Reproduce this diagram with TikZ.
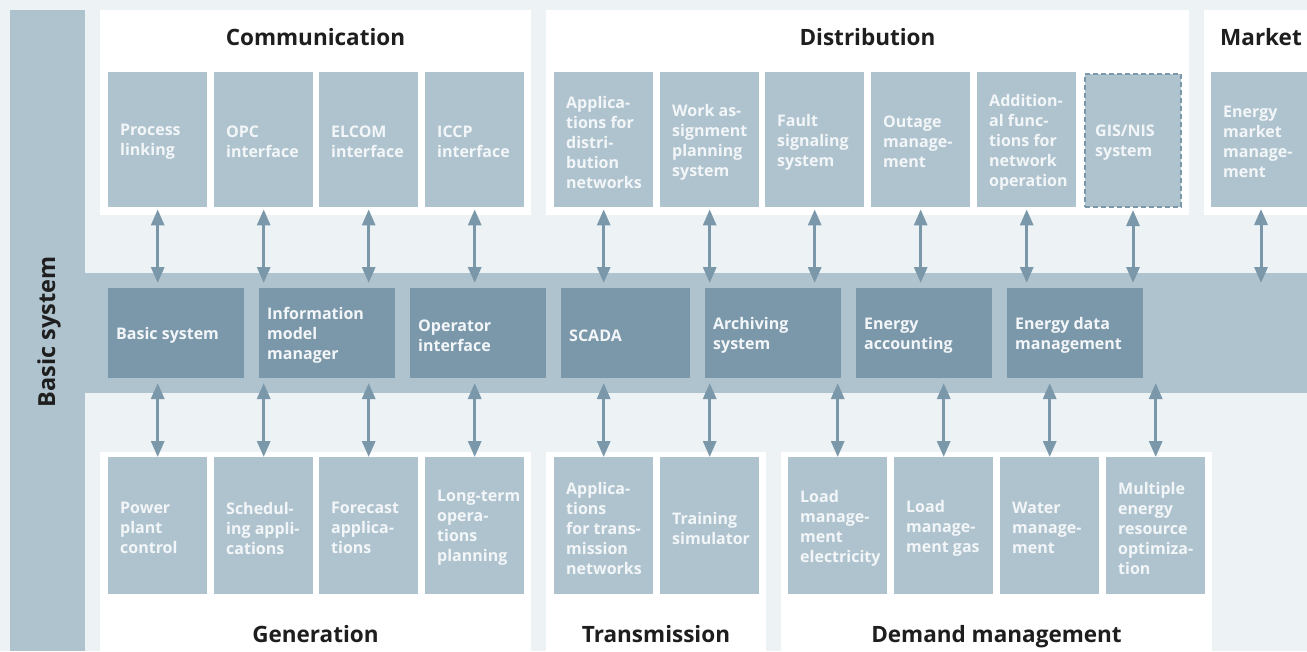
\documentclass[tikz,border=0pt]{standalone}
\usepackage{fontspec}
\setmainfont{Open Sans}
\usetikzlibrary{arrows.meta}
\definecolor{bg}{HTML}{EDF2F5}
\definecolor{lite}{HTML}{AFC3CE}
\definecolor{dark}{HTML}{7B98AA}
\definecolor{ttl}{HTML}{1E1E1E}
\definecolor{btxt}{HTML}{F3F6F8}
\tikzset{
 lbox/.style={fill=lite, draw=none, inner sep=0},
 dbox/.style={fill=dark, draw=none, inner sep=0},
 gbox/.style={fill=lite, draw=dark, line width=2pt, dash pattern=on 5pt off 3pt, inner sep=0},
 panel/.style={fill=white, draw=none, inner sep=0},
 strip/.style={fill=lite, draw=none, inner sep=0},
 boxtext/.style={align=left, inner sep=0, text=btxt, font=\fontsize{16}{20}\selectfont\bfseries},
 title/.style={font=\fontsize{22.5}{26}\selectfont\bfseries, text=ttl, inner sep=0, anchor=base},
 arr/.style={draw=dark, line width=3pt, {Triangle[length=16pt,width=13pt]}-{Triangle[length=16pt,width=13pt]}},
}
% style, name, x1, y1, x2, y2
\newcommand\plate[6]{%
 \pgfmathsetmacro\bxw{#5-#3}\pgfmathsetmacro\bxh{#6-#4}%
 \node[#1, anchor=north west, minimum width=\bxw pt, minimum height=\bxh pt] (#2) at (#3,#4) {};}
% style, name, x1, y1, x2, y2, padding, text
\newcommand\bx[8]{%
 \plate{#1}{#2}{#3}{#4}{#5}{#6}%
 \node[boxtext, anchor=west] (#2t) at ([xshift=#7pt,yshift=-2.5pt]#2.west) {#8};}
\begin{document}
\begin{tikzpicture}[x=1pt,y=-1pt]
\useasboundingbox (0,0) rectangle (1307,651);
\fill[bg] (0,0) rectangle (1307,651);
% left bar and band
\plate{strip}{bar}{10}{10}{85}{651}
\plate{strip}{band}{85}{273}{1307}{393}
\node[rotate=90, font=\fontsize{23.5}{28}\selectfont\bfseries, text=ttl, inner sep=0] (bartitle) at (49,332) {Basic system};
% panels
\plate{panel}{pcom}{100}{10}{531}{215}
\plate{panel}{pdis}{546}{10}{1189}{215}
\plate{panel}{pmar}{1204}{10}{1318}{215}
\plate{panel}{pgen}{100}{452}{531}{651}
\plate{panel}{ptra}{546}{452}{766}{651}
\plate{panel}{pdem}{781}{452}{1212}{651}
% titles
\node[title] (tcom) at (315.5,45) {Communication};
\node[title] (tdis) at (867.5,45) {Distribution};
\node[title] (tmar) at (1261,45) {Market};
\node[title] (tgen) at (315.5,642) {Generation};
\node[title] (ttra) at (656,642) {Transmission};
\node[title] (tdem) at (996.5,642) {Demand management};
% top boxes
\bx{lbox}{c1}{108}{72}{207}{207}{12}{Process\\linking}
\bx{lbox}{c2}{214}{72}{313}{207}{12}{OPC\\interface}
\bx{lbox}{c3}{319}{72}{418}{207}{12}{ELCOM\\interface}
\bx{lbox}{c4}{425}{72}{524}{207}{12}{ICCP\\interface}
\bx{lbox}{d1}{554}{72}{653}{207}{12}{Applica-\\tions for\\distri-\\bution\\networks}
\bx{lbox}{d2}{660}{72}{759}{207}{12}{Work as-\\signment\\planning\\system}
\bx{lbox}{d3}{765}{72}{864}{207}{12}{Fault\\signaling\\system}
\bx{lbox}{d4}{871}{72}{970}{207}{12}{Outage\\manage-\\ment}
\bx{lbox}{d5}{977}{72}{1076}{207}{12}{Addition-\\al func-\\tions for\\network\\operation}
\bx{gbox}{d6}{1084}{73}{1180}{206}{11}{GIS/NIS\\system}
\bx{lbox}{m1}{1211}{72}{1311}{207}{12}{Energy\\market\\manage-\\ment}
% band boxes
\bx{dbox}{k1}{108}{288}{244}{378}{8}{Basic system}
\bx{dbox}{k2}{259}{288}{395}{378}{8}{Information\\model\\manager}
\bx{dbox}{k3}{410}{288}{546}{378}{8}{Operator\\interface}
\bx{dbox}{k4}{561}{288}{690}{378}{8}{SCADA}
\bx{dbox}{k5}{705}{288}{841}{378}{8}{Archiving\\system}
\bx{dbox}{k6}{856}{288}{992}{378}{8}{Energy\\accounting}
\bx{dbox}{k7}{1007}{288}{1143}{378}{8}{Energy data\\management}
% bottom boxes
\bx{lbox}{g1}{108}{457}{207}{594}{12}{Power\\plant\\control}
\bx{lbox}{g2}{214}{457}{313}{594}{12}{Schedul-\\ing appli-\\cations}
\bx{lbox}{g3}{319}{457}{418}{594}{12}{Forecast\\applica-\\tions}
\bx{lbox}{g4}{425}{457}{524}{594}{12}{Long-term\\opera-\\tions\\planning}
\bx{lbox}{t1}{554}{457}{653}{594}{12}{Applica-\\tions\\for trans-\\mission\\networks}
\bx{lbox}{t2}{660}{457}{759}{594}{12}{Training\\simulator}
\bx{lbox}{e1}{788}{457}{887}{594}{12}{Load\\manage-\\ment\\electricity}
\bx{lbox}{e2}{894}{457}{993}{594}{12}{Load\\manage-\\ment gas}
\bx{lbox}{e3}{1000}{457}{1099}{594}{12}{Water\\manage-\\ment}
\bx{lbox}{e4}{1106}{457}{1205}{594}{12}{Multiple\\energy\\resource\\optimiza-\\tion}
% arrow end levels
\coordinate (up) at (0,283);
\coordinate (lo) at (0,383);
\coordinate (mktarrow) at (1261,209);
% top arrows
\foreach \n in {c1,c2,c3,c4,d1,d2,d3,d4,d5,d6}
  \draw[arr] ([yshift=-2pt]\n.south) -- (\n.south |- up);
\draw[arr] (mktarrow) -- (mktarrow |- up);
% bottom arrows
\foreach \n in {g1,g2,g3,g4,t1,t2,e1,e2,e3,e4}
  \draw[arr] (\n.north |- lo) -- (\n.north);
\end{tikzpicture}
\end{document}
